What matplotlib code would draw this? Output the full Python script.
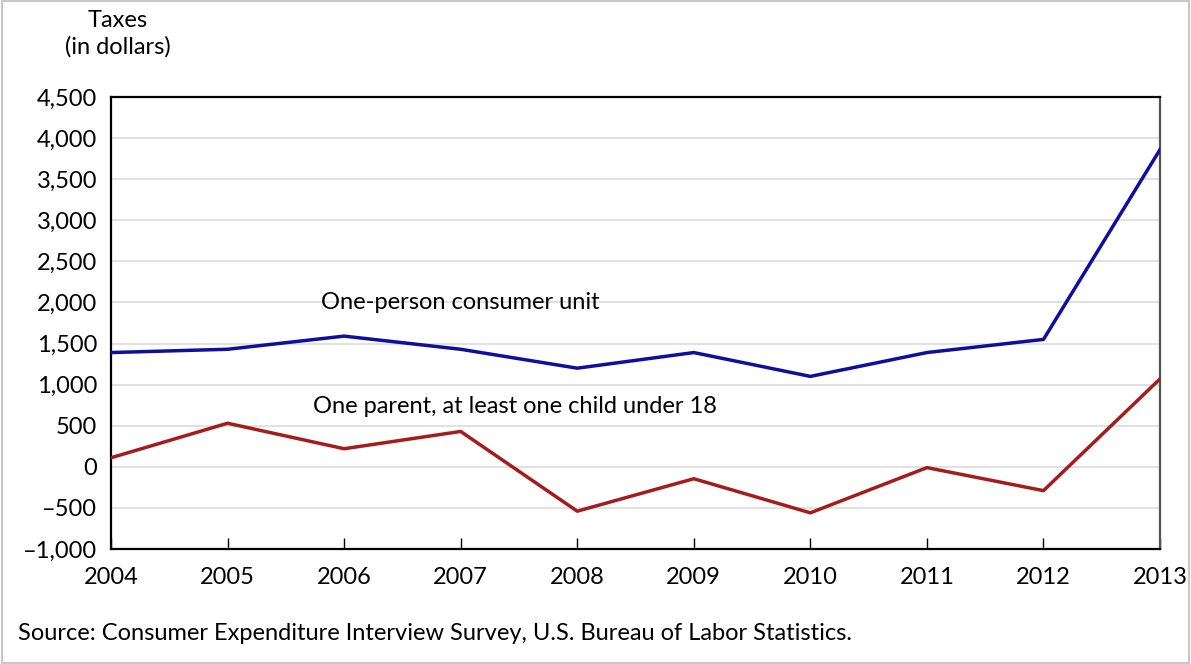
import matplotlib
matplotlib.use('Agg')
import matplotlib.pyplot as plt
from matplotlib.patches import Rectangle

plt.rcParams['font.family'] = ['Lato', 'DejaVu Sans']

# Data
years = [2004, 2005, 2006, 2007, 2008, 2009, 2010, 2011, 2012, 2013]
one_person = [1390, 1430, 1590, 1430, 1200, 1390, 1100, 1390, 1550, 3860]
one_parent = [110, 530, 220, 430, -540, -145, -560, -10, -290, 1070]
y_ticks = list(range(-1000, 4501, 500))

fs = 17

fig = plt.figure(figsize=(11.91, 6.64), dpi=100)
ax = fig.add_axes([0.0932, 0.1732, 0.8808, 0.6808])

ax.plot(years, one_person, color='#0f0f9e', lw=2.5, zorder=3)
ax.plot(years, one_parent, color='#a51c1c', lw=2.5, zorder=3)

ax.set_xlim(2004, 2013)
ax.set_ylim(-1000, 4500)
ax.set_xticks(years)
ax.set_yticks(y_ticks)
ax.set_yticklabels([f'{v:,}'.replace('-', '\u2013') for v in y_ticks])
ax.yaxis.grid(True, color='#dcdcdc', lw=1.2)
ax.set_axisbelow(True)
ax.tick_params(axis='y', length=0, pad=10, labelsize=fs)
ax.tick_params(axis='x', direction='in', length=8, width=1, pad=13, labelsize=fs)

for side in ['left', 'bottom', 'top']:
    ax.spines[side].set_linewidth(1.6)
    ax.spines[side].set_color('black')
ax.spines['right'].set_linewidth(1.6)
ax.spines['right'].set_color('#555555')

ax.text(2007.0, 1995, 'One-person consumer unit', fontsize=fs, ha='center', va='center')
ax.text(2005.73, 730, 'One parent, at least one child under 18', fontsize=fs, ha='left', va='center')

fig.text(118 / 1191, 1 - 34 / 664, 'Taxes\n(in dollars)', fontsize=fs, ha='center', va='center',
         linespacing=1.3)
fig.text(18 / 1191, 1 - 633 / 664, 'Source: Consumer Expenditure Interview Survey, U.S. Bureau of Labor Statistics.',
         fontsize=fs, ha='left', va='center')

fig.patches.append(Rectangle((0.002, 0.002), 0.996, 0.996, transform=fig.transFigure,
                             fill=False, edgecolor='#c8c8c8', lw=1.5))

fig.savefig('out.png', dpi=100)
